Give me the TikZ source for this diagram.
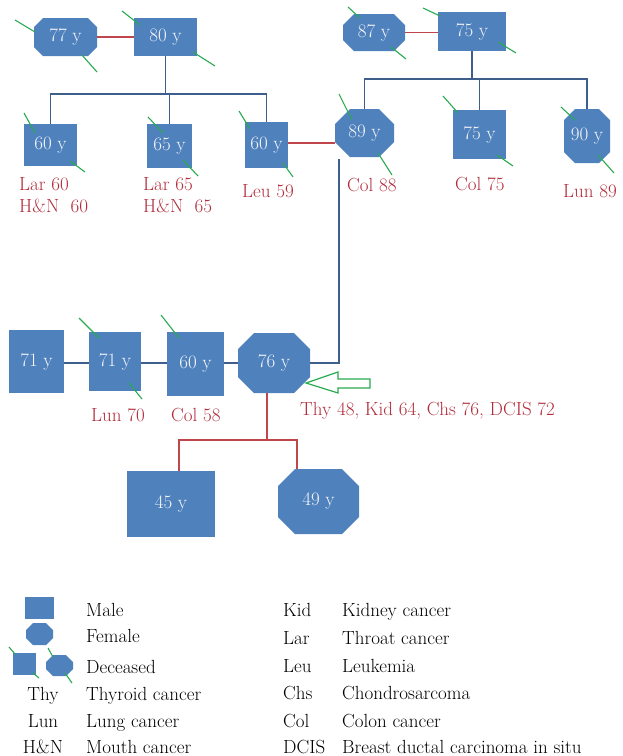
\documentclass[tikz,border=0pt]{standalone}
\definecolor{boxblue}{RGB}{79,129,189}
\definecolor{lineblue}{RGB}{62,95,140}
\definecolor{linered}{RGB}{192,70,76}
\definecolor{labelred}{RGB}{176,44,58}
\definecolor{slashgreen}{RGB}{40,170,80}
\definecolor{nodetext}{RGB}{245,245,248}
\newcommand\lblfont{\fontsize{19}{22}\selectfont}
\newcommand\octshape[5]{%
  \fill[boxblue] (#1-#3/2+#5,#2-#4/2) -- (#1+#3/2-#5,#2-#4/2) -- (#1+#3/2,#2-#4/2+#5)
  -- (#1+#3/2,#2+#4/2-#5) -- (#1+#3/2-#5,#2+#4/2) -- (#1-#3/2+#5,#2+#4/2)
  -- (#1-#3/2,#2+#4/2-#5) -- (#1-#3/2,#2-#4/2+#5) -- cycle;}
\newcommand\octnode[7]{\octshape{#2}{#3}{#4}{#5}{#6}%
  \node[fem, minimum width=#4pt, minimum height=#5pt] (#1) at (#2,#3) {#7};}
\begin{document}
\begin{tikzpicture}[x=1pt,y=-1pt,
  male/.style={rectangle, fill=boxblue, inner sep=0pt, text=nodetext, font=\lblfont},
  fem/.style={rectangle, inner sep=0pt, text=nodetext, font=\lblfont},
  bline/.style={draw=lineblue, line width=1.3pt},
  rline/.style={draw=linered, line width=1.6pt},
  dec/.style={draw=slashgreen, line width=1.1pt},
  lbl/.style={anchor=base west, text=labelred, font=\lblfont, inner sep=0pt},
  leg/.style={anchor=base west, text=black, font=\lblfont, inner sep=0pt},
  legc/.style={anchor=base, text=black, font=\lblfont, inner sep=0pt}]
\useasboundingbox (0,0) rectangle (622,756);

% ---------- generation I ----------
\octnode{f77}{65.5}{37}{63}{38}{9}{77 y}
\node[male, minimum width=63pt, minimum height=38pt] (m80) at (165.5,37) {80 y};
\octnode{f87}{374}{32.5}{62}{37}{11}{87 y}
\node[male, minimum width=68pt, minimum height=39pt] (t75) at (472,31.5) {75 y};

% ---------- generation II ----------
\node[male, minimum width=53pt, minimum height=42pt] (c60a) at (50.5,145) {60 y};
\node[male, minimum width=45pt, minimum height=44pt] (c65) at (169.5,146) {65 y};
\node[male, minimum width=43pt, minimum height=46pt] (c60b) at (266.5,145) {60 y};
\octnode{f89}{364.5}{133}{59}{48}{15}{89 y}
\node[male, minimum width=53pt, minimum height=49pt] (c75) at (479.5,134.5) {75 y};
\octnode{f90}{587}{136}{46}{54}{11}{90 y}

% ---------- generation III ----------
\node[male, minimum width=55pt, minimum height=63pt] (r71a) at (36.5,361.5) {71 y};
\node[male, minimum width=52pt, minimum height=59pt] (r71b) at (115,361.5) {71 y};
\node[male, minimum width=57pt, minimum height=64pt] (r60) at (195.5,364) {60 y};
\octnode{f76}{274}{363}{72}{60}{16}{76 y}

% ---------- generation IV ----------
\node[male, minimum width=88pt, minimum height=66pt] (g45) at (171,504) {45 y};
\octnode{g49}{318.5}{501.5}{81}{65}{17}{49 y}

% ---------- connectors ----------
\coordinate (bar1) at (166,94);
\coordinate (bar2) at (472,79);
\coordinate (bar3) at (267,440);
\coordinate (top89) at (339,159);
\draw[rline] (f77.east) -- (m80.west);
\draw[rline] (f87.east) -- (f87.east -| t75.west);
\draw[bline] (m80.south) -- (m80.south |- bar1);
\draw[bline] (c60a.north) |- (bar1) -| (c60b.north);
\draw[bline] (c65.north) -- (c65.north |- bar1);
\draw[bline] (t75.south) -- (t75.south |- bar2);
\draw[bline] (f89.north) |- (bar2) -| (f90.north);
\draw[bline] (c75.north) -- (c75.north |- bar2);
\draw[rline] (c60b.east |- 0,143) -- (f89.west |- 0,143);
\draw[bline] (r71a.east |- f76.center) -- (r71b.west |- f76.center);
\draw[bline] (r71b.east |- f76.center) -- (r60.west |- f76.center);
\draw[bline] (r60.east |- f76.center) -- (f76.west);
\draw[bline] (f76.east) -| (top89);
\draw[rline] (bar3 |- f76.south) -- (bar3);
\draw[rline] (g45.north -| 179,0) |- (bar3) -| (g49.north -| 297,0);

% ---------- deceased marks ----------
\draw[dec] (15,20) -- (35,32);   \draw[dec] (82,55) -- (97,72);
\draw[dec] (122,11) -- (140,25); \draw[dec] (193,52) -- (215,66);
\draw[dec] (24,113) -- (35,133); \draw[dec] (70,161) -- (85,172);
\draw[dec] (148,117) -- (163,133); \draw[dec] (183,160) -- (198,176);
\draw[dec] (239,111) -- (250,129); \draw[dec] (283,163) -- (293,177);
\draw[dec] (348,7) -- (360,18);  \draw[dec] (391,47) -- (406,59);
\draw[dec] (423,8) -- (440,16);  \draw[dec] (498,42) -- (516,53);
\draw[dec] (339,94) -- (352,120); \draw[dec] (378,153) -- (392,175);
\draw[dec] (443,96) -- (458,113); \draw[dec] (497,155) -- (513,166);
\draw[dec] (561,107) -- (575,120); \draw[dec] (598,155) -- (614,173);
\draw[dec] (79,318) -- (99,338); \draw[dec] (129,383) -- (142,399);
\draw[dec] (161,315) -- (179,338);

% ---------- proband arrow ----------
\draw[slashgreen, line width=1.2pt, fill=white, line join=miter]
  (306,383) -- (338,372) -- (338,379) -- (370,379) -- (370,388) -- (338,388) -- (338,393) -- cycle;

% ---------- labels ----------
\node[lbl] (l1) at (19,190) {Lar 60};
\node[lbl] (l2) at (19,212) {H\&N\ \ 60};
\node[lbl] (l3) at (143,190) {Lar 65};
\node[lbl] (l4) at (143,212) {H\&N\ \ 65};
\node[lbl] (l5) at (242,197) {Leu 59};
\node[lbl] (l6) at (347,191) {Col 88};
\node[lbl] (l7) at (455,190) {Col 75};
\node[lbl] (l8) at (563,197) {Lun 89};
\node[lbl] (l9) at (91,421) {Lun 70};
\node[lbl] (l10) at (171,421) {Col 58};
\node[lbl] (l11) at (300,415) {Thy 48, Kid 64, Chs 76, DCIS 72};

% ---------- legend ----------
\node[male, minimum width=29pt, minimum height=22pt] (kmale) at (39.5,608) {};
\octnode{kfem}{39.5}{634}{27}{22}{7}{}
\node[male, minimum width=23pt, minimum height=22pt] (kdm) at (24.5,664) {};
\octnode{kdf}{59.5}{665.5}{27}{21}{7}{}
\draw[dec] (9,647) -- (15,654);  \draw[dec] (33,673) -- (39,678);
\draw[dec] (48,648) -- (53,657); \draw[dec] (65,673) -- (72,683);
\node[leg] (t1) at (86,616) {Male};
\node[leg] (t2) at (86,642) {Female};
\node[leg] (t3) at (86,673) {Deceased};
\node[legc] (a4) at (43,700) {Thy};
\node[leg] (t4) at (86,700) {Thyroid cancer};
\node[legc] (a5) at (43,727) {Lun};
\node[leg] (t5) at (86,727) {Lung cancer};
\node[legc] (a6) at (43,753) {H\&N};
\node[leg] (t6) at (86,753) {Mouth cancer};
\node[leg] (a7) at (283,616) {Kid};
\node[leg] (t7) at (342,616) {Kidney cancer};
\node[leg] (a8) at (283,644) {Lar};
\node[leg] (t8) at (342,644) {Throat cancer};
\node[leg] (a9) at (283,672) {Leu};
\node[leg] (t9) at (342,672) {Leukemia};
\node[leg] (a10) at (283,699) {Chs};
\node[leg] (t10) at (342,699) {Chondrosarcoma};
\node[leg] (a11) at (283,727) {Col};
\node[leg] (t11) at (342,727) {Colon cancer};
\node[leg] (a12) at (283,753) {DCIS};
\node[leg] (t12) at (342,753) {Breast ductal carcinoma in situ};
\end{tikzpicture}
\end{document}
